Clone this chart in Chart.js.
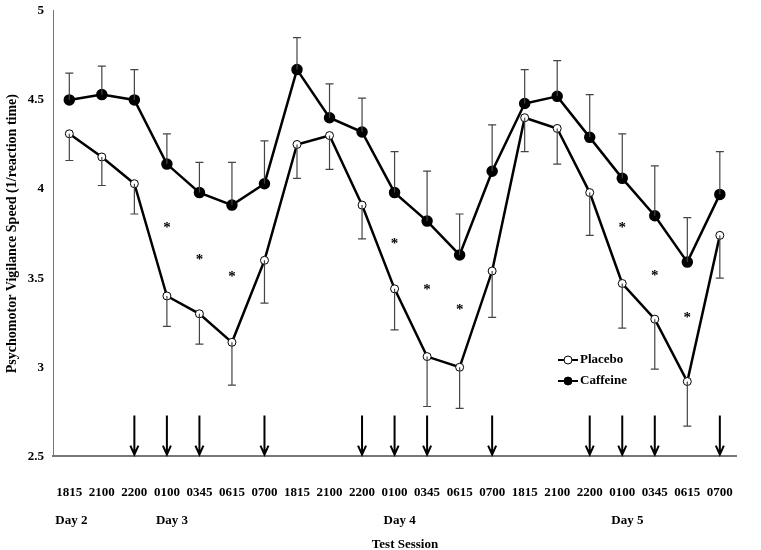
<!DOCTYPE html>
<html>
<head>
<meta charset="utf-8">
<script src="https://cdn.jsdelivr.net/npm/chart.js@4"></script>
<style>
  body { margin: 0; background: #fff; }
  #wrap { width: 761px; height: 550px; }
</style>
</head>
<body>
<div id="wrap"><canvas id="chart"></canvas></div>
<script>
const sessions = ['1815','2100','2200','0100','0345','0615','0700','1815','2100','2200','0100','0345','0615','0700','1815','2100','2200','0100','0345','0615','0700'];
const placebo = [4.31,4.18,4.03,3.40,3.30,3.14,3.60,4.25,4.30,3.91,3.44,3.06,3.00,3.54,4.40,4.34,3.98,3.47,3.27,2.92,3.74];
const placeboLow = [4.16,4.02,3.86,3.23,3.13,2.90,3.36,4.06,4.11,3.72,3.21,2.78,2.77,3.28,4.21,4.14,3.74,3.22,2.99,2.67,3.50];
const caffeine = [4.50,4.53,4.50,4.14,3.98,3.91,4.03,4.67,4.40,4.32,3.98,3.82,3.63,4.10,4.48,4.52,4.29,4.06,3.85,3.59,3.97];
const caffeineHigh = [4.65,4.69,4.67,4.31,4.15,4.15,4.27,4.85,4.59,4.51,4.21,4.10,3.86,4.36,4.67,4.72,4.53,4.31,4.13,3.84,4.21];
const starIdx = [3,4,5,10,11,12,17,18,19];
const starVal = [3.80,3.62,3.52,3.71,3.45,3.34,3.80,3.53,3.29];
const arrowIdx = [2,3,4,6,9,10,11,13,16,17,18,20];
const dayLabels = ['Day 2','Day 3','Day 4','Day 5'];
const dayIdx = [0,3,10,17];

const FONT = '"Liberation Serif", "Times New Roman", serif';

const extras = {
    id: 'extras',
    afterDatasetsDraw(chart) {
        const ctx = chart.ctx;
        const x = chart.scales.x, y = chart.scales.y;
        ctx.save();
        // error bars
        ctx.strokeStyle = '#444';
        ctx.lineWidth = 1.2;
        const bar = (i, from, to) => {
            const px = x.getPixelForValue(i);
            ctx.beginPath();
            ctx.moveTo(px, y.getPixelForValue(from));
            ctx.lineTo(px, y.getPixelForValue(to));
            ctx.moveTo(px - 4, y.getPixelForValue(to));
            ctx.lineTo(px + 4, y.getPixelForValue(to));
            ctx.stroke();
        };
        caffeine.forEach((v, i) => bar(i, v, caffeineHigh[i]));
        placebo.forEach((v, i) => bar(i, v, placeboLow[i]));
        // stars
        ctx.fillStyle = '#000';
        ctx.font = 'bold 15px ' + FONT;
        ctx.textAlign = 'center';
        ctx.textBaseline = 'middle';
        starIdx.forEach((i, k) => ctx.fillText('*', x.getPixelForValue(i), y.getPixelForValue(starVal[k]) + 3));
        // arrows
        ctx.strokeStyle = '#000';
        ctx.lineWidth = 2;
        arrowIdx.forEach(i => {
            const px = x.getPixelForValue(i);
            const top = y.getPixelForValue(2.73), bot = y.getPixelForValue(2.51);
            ctx.beginPath();
            ctx.moveTo(px, top); ctx.lineTo(px, bot);
            ctx.moveTo(px - 4, bot - 9); ctx.lineTo(px, bot); ctx.lineTo(px + 4, bot - 9);
            ctx.stroke();
        });
        // day labels and axis title
        ctx.font = 'bold 13px ' + FONT;
        ctx.textAlign = 'left';
        dayIdx.forEach((i, k) => ctx.fillText(dayLabels[k], x.getPixelForValue(i) - 14 + (k ? 3 : 0), 521));
        ctx.textAlign = 'center';
        ctx.fillText('Test Session', 405, 545);
        // legend
        const items = [['Placebo', '#fff', 360], ['Caffeine', '#000', 381]];
        items.forEach(([name, fill, ly]) => {
            ctx.lineWidth = 2;
            ctx.beginPath(); ctx.moveTo(558, ly); ctx.lineTo(578, ly); ctx.stroke();
            ctx.beginPath(); ctx.arc(568, ly, 4, 0, Math.PI * 2);
            ctx.fillStyle = fill; ctx.fill();
            ctx.lineWidth = 1; ctx.stroke();
            ctx.fillStyle = '#000';
            ctx.textAlign = 'left';
            ctx.fillText(name, 580, ly);
        });
        ctx.restore();
    }
};

new Chart(document.getElementById('chart'), {
    type: 'line',
    data: {
        labels: sessions,
        datasets: [{
            label: 'Placebo',
            data: placebo,
            borderColor: '#000',
            borderWidth: 2.5,
            pointStyle: 'circle',
            pointRadius: 4,
            pointBorderWidth: 1,
            pointBackgroundColor: '#fff',
            pointBorderColor: '#000',
            tension: 0
        }, {
            label: 'Caffeine',
            data: caffeine,
            borderColor: '#000',
            borderWidth: 2.5,
            pointRadius: 4.5,
            pointBackgroundColor: '#000',
            pointBorderColor: '#000',
            tension: 0
        }]
    },
    options: {
        responsive: true,
        maintainAspectRatio: false,
        animation: false,
        layout: { padding: { top: 8, right: 0, bottom: 22, left: 0 } },
        plugins: { legend: { display: false }, tooltip: { enabled: false } },
        scales: {
            x: {
                offset: true,
                grid: { display: false, drawTicks: false },
                border: { color: '#777', width: 2 },
                ticks: { color: '#000', padding: 28, maxRotation: 0, autoSkip: false, font: { family: FONT, size: 13, weight: 'bold' } }
            },
            y: {
                min: 2.5,
                max: 5,
                grid: { display: false, tickLength: 6 },
                border: { color: '#777', width: 1 },
                ticks: { stepSize: 0.5, color: '#000', callback: v => String(v), font: { family: FONT, size: 13, weight: 'bold' } },
                title: { display: true, text: 'Psychomotor Vigilance Speed (1/reaction time)', color: '#000', font: { family: FONT, size: 14, weight: 'bold' } }
            }
        }
    },
    plugins: [extras]
});
</script>
</body>
</html>
